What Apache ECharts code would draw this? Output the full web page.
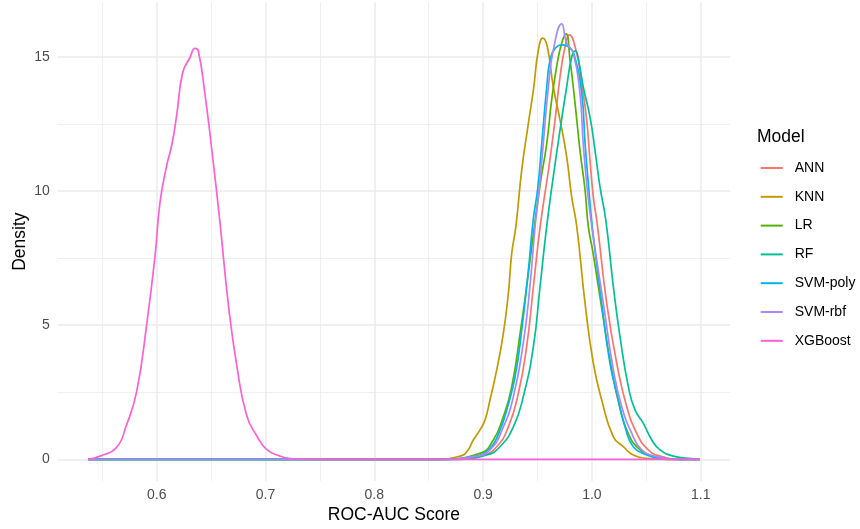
<!DOCTYPE html>
<html>
<head>
<meta charset="utf-8">
<title>ROC-AUC density</title>
<script src="https://cdn.jsdelivr.net/npm/echarts@6/dist/echarts.min.js"></script>
<style>
  html, body { margin: 0; padding: 0; background: #fff; }
  #chart { width: 860px; height: 529px; }
</style>
</head>
<body>
<div id="chart"></div>
<script>
// models in legend order
const models = ['ANN', 'KNN', 'LR', 'RF', 'SVM-poly', 'SVM-rbf', 'XGBoost'];
const colors = ['#F8766D', '#C49A00', '#53B400', '#00C094', '#00B6EB', '#A58AFF', '#FB61D7'];

// density curves (x = score, y = density)
const annX = [0.537, 0.87, 0.9002, 0.9125, 0.9232, 0.9324, 0.94, 0.9462, 0.9525, 0.9605, 0.9661, 0.9707, 0.9753, 0.9792, 0.986, 0.9906, 0.9952, 0.9982, 1.0013, 1.0051, 1.0136, 1.0228, 1.032, 1.0412, 1.0504, 1.0626, 1.085, 1.099];
const annY = [0, 0, 0.16, 0.47, 1.21, 2.46, 4.2, 6.43, 8.7, 10.9, 12.64, 14.25, 15.37, 15.81, 15.13, 14.0, 12.64, 11.15, 9.78, 8.7, 5.81, 3.58, 1.96, 0.97, 0.41, 0.12, 0, 0];

const knnX = [0.537, 0.86, 0.8788, 0.885, 0.891, 0.897, 0.9017, 0.9063, 0.9125, 0.9186, 0.9232, 0.9263, 0.9302, 0.9355, 0.9416, 0.9462, 0.9508, 0.9548, 0.959, 0.9645, 0.9707, 0.9768, 0.9814, 0.986, 0.9937, 1.0013, 1.009, 1.0197, 1.0289, 1.038, 1.0504, 1.07, 1.099];
const knnY = [0, 0, 0.12, 0.28, 0.72, 1.09, 1.46, 2.21, 3.33, 4.69, 6.18, 7.67, 8.7, 10.78, 12.52, 13.76, 15.25, 15.69, 15.37, 13.88, 12.64, 11.27, 9.78, 8.7, 5.81, 3.58, 2.21, 0.84, 0.47, 0.16, 0.04, 0, 0];

const lrX = [0.537, 0.86, 0.897, 0.9094, 0.9186, 0.9263, 0.934, 0.9415, 0.9475, 0.953, 0.9585, 0.963, 0.9676, 0.9722, 0.9762, 0.9799, 0.9845, 0.989, 0.9937, 0.9967, 1.001, 1.0095, 1.0175, 1.0255, 1.033, 1.0425, 1.056, 1.075, 1.099];
const lrY = [0, 0, 0.22, 0.72, 1.59, 2.7, 4.69, 6.9, 8.8, 10.4, 11.77, 13.39, 14.63, 15.5, 15.85, 14.87, 13.26, 11.52, 10.03, 8.67, 7.7, 5.5, 3.5, 1.95, 1.0, 0.42, 0.12, 0, 0];

const rfX = [0.537, 0.875, 0.9033, 0.9155, 0.9278, 0.9369, 0.9462, 0.9523, 0.9585, 0.9645, 0.9707, 0.9768, 0.9815, 0.9848, 0.9885, 0.992, 0.9982, 1.0028, 1.0074, 1.0128, 1.0197, 1.0258, 1.0335, 1.0396, 1.0473, 1.055, 1.0626, 1.0748, 1.093, 1.099];
const rfY = [0, 0, 0.16, 0.47, 1.21, 2.33, 4.2, 6.43, 8.7, 10.53, 12.27, 13.88, 15.0, 15.22, 14.7, 13.88, 12.76, 11.52, 10.16, 8.9, 6.43, 4.57, 2.7, 1.84, 1.34, 0.72, 0.35, 0.12, 0.02, 0];

const polyX = [0.537, 0.86, 0.891, 0.9063, 0.9155, 0.9217, 0.9294, 0.9355, 0.9416, 0.946, 0.9502, 0.9539, 0.9585, 0.9615, 0.966, 0.9737, 0.979, 0.9835, 0.9906, 0.9937, 0.9967, 1.0005, 1.009, 1.0166, 1.0243, 1.0304, 1.038, 1.0504, 1.062, 1.08, 1.099];
const polyY = [0, 0, 0.1, 0.41, 1.09, 1.84, 3.08, 4.82, 7.05, 8.9, 10.1, 11.77, 13.88, 14.87, 15.3, 15.44, 15.35, 15.1, 13.64, 11.77, 10.28, 8.6, 5.81, 3.58, 2.21, 1.21, 0.47, 0.16, 0.04, 0, 0];

const rbfX = [0.537, 0.86, 0.891, 0.9063, 0.9186, 0.9278, 0.9369, 0.943, 0.9478, 0.9508, 0.9553, 0.96, 0.9645, 0.9722, 0.9768, 0.9829, 0.989, 0.992, 0.9952, 0.9998, 1.0105, 1.0197, 1.0274, 1.0366, 1.0458, 1.0596, 1.08, 1.099];
const rbfY = [0, 0, 0.1, 0.35, 1.21, 2.33, 4.32, 6.43, 8.7, 9.78, 11.77, 13.88, 15.25, 16.22, 15.5, 15.13, 13.64, 11.77, 10.28, 8.7, 5.81, 3.33, 1.96, 0.97, 0.35, 0.1, 0, 0];

const xgbX = [0.537, 0.548, 0.563, 0.572, 0.5815, 0.5908, 0.5984, 0.603, 0.6092, 0.6138, 0.6184, 0.6239, 0.6306, 0.6352, 0.6382, 0.6444, 0.6505, 0.6582, 0.6658, 0.6735, 0.6827, 0.6919, 0.701, 0.7133, 0.7225, 0.74, 1.099];
const xgbY = [0, 0.12, 0.44, 1.25, 2.51, 5.03, 7.55, 9.56, 10.95, 11.7, 12.83, 14.41, 14.97, 15.31, 15.22, 13.59, 11.58, 8.8, 5.79, 3.52, 1.63, 0.88, 0.37, 0.12, 0.03, 0, 0];

// axis breaks
const xMajor = [0.6, 0.7, 0.8, 0.9, 1.0, 1.1];
const xMinor = [0.55, 0.65, 0.75, 0.85, 0.95, 1.05];
const yMajor = [0, 5, 10, 15];
const yMinor = [2.5, 7.5, 12.5];

const curves = [
  [annX, annY], [knnX, knnY], [lrX, lrY], [rfX, rfY],
  [polyX, polyY], [rbfX, rbfY], [xgbX, xgbY]
];

const xMin = 0.509, xMax = 1.127;
const yMin = -0.811, yMax = 17.03;

const gridColor = '#EBEBEB';
const font = "'Liberation Sans', Arial, Helvetica, sans-serif";

const chart = echarts.init(document.getElementById('chart'), null, { renderer: 'canvas' });

const series = models.map((name, i) => ({
  name: name,
  type: 'line',
  xAxisIndex: 0,
  yAxisIndex: 0,
  data: curves[i][0].map((x, j) => [x, curves[i][1][j]]),
  showSymbol: false,
  symbol: 'none',
  smooth: 0.5,
  lineStyle: { color: colors[i], width: 1.7 },
  itemStyle: { color: colors[i] },
  emphasis: { disabled: true }
}));

chart.setOption({
  animation: false,
  textStyle: { fontFamily: font },
  title: {
    text: 'Model',
    left: 757,
    top: 128,
    padding: 0,
    textStyle: { fontFamily: font, fontSize: 17.5, fontWeight: 'normal', color: '#000' }
  },
  legend: {
    orient: 'vertical',
    left: 760.7,
    top: 160,
    padding: 0,
    itemGap: 12.8,
    itemWidth: 22,
    itemHeight: 2,
    icon: 'rect',
    data: models,
    textStyle: { fontFamily: font, fontSize: 14, color: '#000', lineHeight: 16, padding: [0, 0, 0, 7] }
  },
  grid: {
    left: 57.7,
    right: 129.9,
    top: 2.2,
    bottom: 47.9,
    containLabel: false,
    outerBoundsMode: 'none'
  },
  xAxis: [
    {
      type: 'value',
      min: xMin,
      max: xMax,
      name: 'ROC-AUC Score',
      nameLocation: 'middle',
      nameGap: 25,
      nameMoveOverlap: false,
      nameTextStyle: { fontFamily: font, fontSize: 17.5, color: '#000' },
      axisLine: { show: false },
      axisTick: { show: false, customValues: xMajor },
      axisLabel: {
        customValues: xMajor,
        margin: 7,
        fontSize: 14,
        color: '#4D4D4D',
        formatter: v => v.toFixed(1)
      },
      splitLine: { show: true, lineStyle: { color: gridColor, width: 1.5 } }
    },
    {
      type: 'value',
      min: xMin,
      max: xMax,
      position: 'top',
      axisLine: { show: false },
      axisTick: { show: false, customValues: xMinor },
      axisLabel: { show: false },
      splitLine: { show: true, lineStyle: { color: gridColor, width: 0.8 } }
    }
  ],
  yAxis: [
    {
      type: 'value',
      min: yMin,
      max: yMax,
      name: 'Density',
      nameLocation: 'middle',
      nameGap: 29,
      nameMoveOverlap: false,
      nameTextStyle: { fontFamily: font, fontSize: 17.5, color: '#000' },
      axisLine: { show: false },
      axisTick: { show: false, customValues: yMajor },
      axisLabel: {
        customValues: yMajor,
        margin: 8,
        fontSize: 14,
        color: '#4D4D4D'
      },
      splitLine: { show: true, lineStyle: { color: gridColor, width: 1.5 } }
    },
    {
      type: 'value',
      min: yMin,
      max: yMax,
      position: 'right',
      axisLine: { show: false },
      axisTick: { show: false, customValues: yMinor },
      axisLabel: { show: false },
      splitLine: { show: true, lineStyle: { color: gridColor, width: 0.8 } }
    }
  ],
  series: series
});

window.addEventListener('resize', () => chart.resize());
</script>
</body>
</html>
